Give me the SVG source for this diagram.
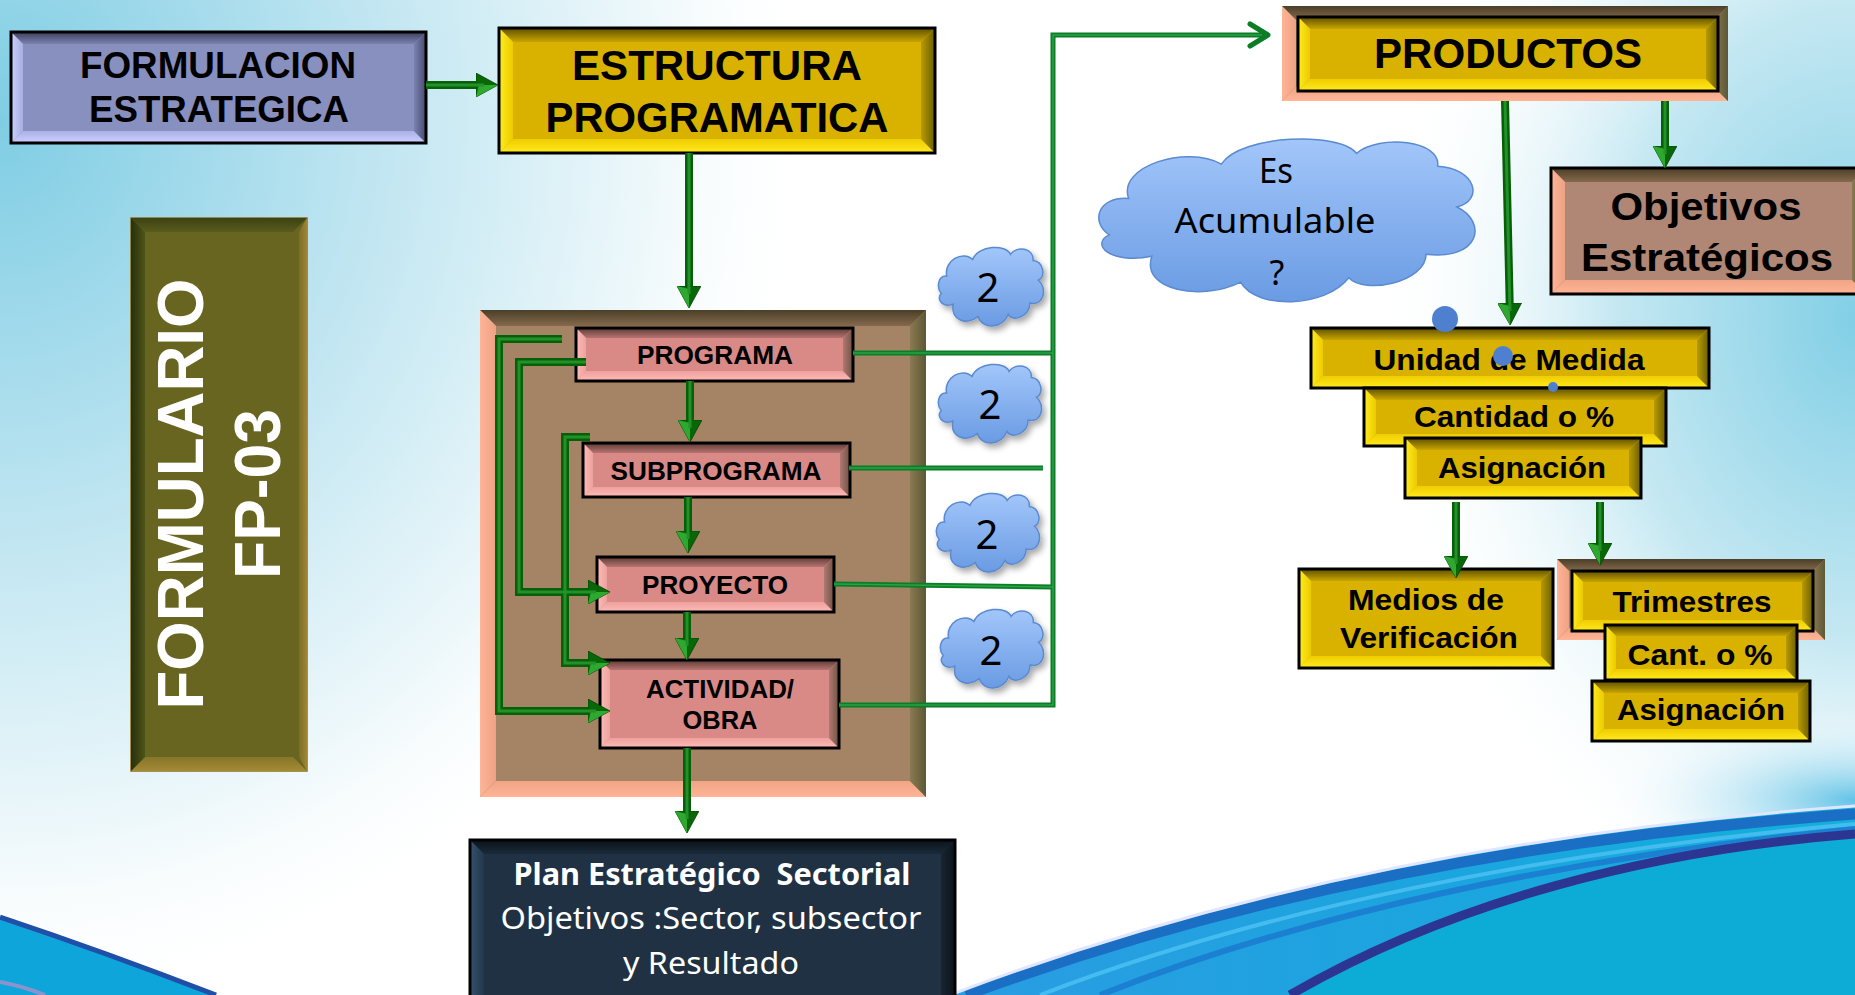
<svg xmlns="http://www.w3.org/2000/svg" xmlns:xlink="http://www.w3.org/1999/xlink" width="1855" height="995" viewBox="0 0 1855 995">
<defs>
<style>
.bx{font-family:"Liberation Sans",Arial,sans-serif;font-weight:bold;text-anchor:middle;fill:#000}
.cal{font-family:"Noto Sans","Open Sans",sans-serif;text-anchor:middle;fill:#000}
.wt{fill:#fff}
.edge{fill:none;stroke:#000;stroke-width:3}
.Y .base{fill:#d9b200}.Y .t{fill:url(#Yt)}.Y .b{fill:url(#Yb)}.Y .l{fill:url(#Yl)}.Y .r{fill:url(#Yr)}
.P .base{fill:#d98a87}.P .t{fill:url(#Pt)}.P .b{fill:url(#Pb)}.P .l{fill:url(#Pl)}.P .r{fill:url(#Pr)}
.L .base{fill:#8890c0}.L .t{fill:url(#Lt)}.L .b{fill:url(#Lb)}.L .l{fill:url(#Ll)}.L .r{fill:url(#Lr)}
.B .base{fill:#a58466}.R .base{fill:#b08675}
.B .t,.R .t{fill:url(#Bt)}.B .b,.R .b{fill:url(#Bb)}.B .l,.R .l{fill:url(#Bl)}.B .r,.R .r{fill:url(#Br)}
.O .base{fill:#67651f;stroke:#8a7020;stroke-width:1.5}.O .t{fill:url(#Ot)}.O .b{fill:url(#Ob)}.O .l{fill:url(#Ol)}.O .r{fill:url(#Or)}
.N .base{fill:#1f3142}.N .t{fill:url(#Nt)}.N .l{fill:url(#Nl)}.N .r{fill:url(#Nr)}
.th{fill:none;stroke:#075f07;stroke-width:8;stroke-linejoin:miter;marker-end:url(#ah)}
.hl{fill:none;stroke:#23912a;stroke-width:3}
.tn{fill:none;stroke:#0b7d25;stroke-width:5}
.tnh{fill:none;stroke:#2aa048;stroke-width:1.5}
.dot{fill:#4f80cf}
</style>
<linearGradient id="Yt" x1="0" y1="0" x2="0" y2="1"><stop offset="0" stop-color="#5e5000"/><stop offset="1" stop-color="#c9a500"/></linearGradient>
<linearGradient id="Yb" x1="0" y1="0" x2="0" y2="1"><stop offset="0" stop-color="#f0cd00"/><stop offset="1" stop-color="#ffea1e"/></linearGradient>
<linearGradient id="Yl" x1="0" y1="0" x2="1" y2="0"><stop offset="0" stop-color="#ffec1e"/><stop offset="1" stop-color="#eccb00"/></linearGradient>
<linearGradient id="Yr" x1="0" y1="0" x2="1" y2="0"><stop offset="0" stop-color="#b89a00"/><stop offset="1" stop-color="#6a5e00"/></linearGradient>
<linearGradient id="Pt" x1="0" y1="0" x2="0" y2="1"><stop offset="0" stop-color="#5a3a36"/><stop offset="1" stop-color="#b87470"/></linearGradient>
<linearGradient id="Pb" x1="0" y1="0" x2="0" y2="1"><stop offset="0" stop-color="#eea09c"/><stop offset="1" stop-color="#ffbcb8"/></linearGradient>
<linearGradient id="Pl" x1="0" y1="0" x2="1" y2="0"><stop offset="0" stop-color="#ffbcb8"/><stop offset="1" stop-color="#eba29e"/></linearGradient>
<linearGradient id="Pr" x1="0" y1="0" x2="1" y2="0"><stop offset="0" stop-color="#b07872"/><stop offset="1" stop-color="#6e5242"/></linearGradient>
<linearGradient id="Lt" x1="0" y1="0" x2="0" y2="1"><stop offset="0" stop-color="#3c405c"/><stop offset="1" stop-color="#7a82b0"/></linearGradient>
<linearGradient id="Lb" x1="0" y1="0" x2="0" y2="1"><stop offset="0" stop-color="#aab2e6"/><stop offset="1" stop-color="#ccd0ff"/></linearGradient>
<linearGradient id="Ll" x1="0" y1="0" x2="1" y2="0"><stop offset="0" stop-color="#ccd0ff"/><stop offset="1" stop-color="#a6aee0"/></linearGradient>
<linearGradient id="Lr" x1="0" y1="0" x2="1" y2="0"><stop offset="0" stop-color="#7a82b0"/><stop offset="1" stop-color="#474c6c"/></linearGradient>
<linearGradient id="Bt" x1="0" y1="0" x2="0" y2="1"><stop offset="0" stop-color="#4a3f28"/><stop offset="1" stop-color="#85694c"/></linearGradient>
<linearGradient id="Bb" x1="0" y1="0" x2="0" y2="1"><stop offset="0" stop-color="#f0a585"/><stop offset="1" stop-color="#ffb497"/></linearGradient>
<linearGradient id="Bl" x1="0" y1="0" x2="1" y2="0"><stop offset="0" stop-color="#ffb497"/><stop offset="1" stop-color="#eda283"/></linearGradient>
<linearGradient id="Br" x1="0" y1="0" x2="1" y2="0"><stop offset="0" stop-color="#8a7a50"/><stop offset="1" stop-color="#5c5836"/></linearGradient>
<linearGradient id="Ot" x1="0" y1="0" x2="0" y2="1"><stop offset="0" stop-color="#3c4212"/><stop offset="1" stop-color="#5a5c1c"/></linearGradient>
<linearGradient id="Ob" x1="0" y1="0" x2="0" y2="1"><stop offset="0" stop-color="#867628"/><stop offset="1" stop-color="#a48a36"/></linearGradient>
<linearGradient id="Ol" x1="0" y1="0" x2="1" y2="0"><stop offset="0" stop-color="#27300c"/><stop offset="1" stop-color="#4e5418"/></linearGradient>
<linearGradient id="Or" x1="0" y1="0" x2="1" y2="0"><stop offset="0" stop-color="#7e6c26"/><stop offset="1" stop-color="#a08634"/></linearGradient>
<linearGradient id="Nt" x1="0" y1="0" x2="0" y2="1"><stop offset="0" stop-color="#0b131a"/><stop offset="1" stop-color="#1a2a3a"/></linearGradient>
<linearGradient id="Nl" x1="0" y1="0" x2="1" y2="0"><stop offset="0" stop-color="#36526e"/><stop offset="1" stop-color="#22374a"/></linearGradient>
<linearGradient id="Nr" x1="0" y1="0" x2="1" y2="0"><stop offset="0" stop-color="#182430"/><stop offset="1" stop-color="#0c141a"/></linearGradient>
<linearGradient id="cg" x1="0" y1="0" x2="0" y2="1"><stop offset="0" stop-color="#a2c6fa"/><stop offset="1" stop-color="#6a9be3"/></linearGradient>
<radialGradient id="gTL" gradientUnits="userSpaceOnUse" cx="0" cy="0" r="1" gradientTransform="translate(0,120) scale(820,900)">
<stop offset="0" stop-color="#7fcde4"/><stop offset="0.45" stop-color="#bfe5f1"/><stop offset="0.8" stop-color="#eef8fb"/><stop offset="1" stop-color="#ffffff" stop-opacity="0"/></radialGradient>
<radialGradient id="gTR" gradientUnits="userSpaceOnUse" cx="0" cy="0" r="1" gradientTransform="translate(1855,320) scale(480,640)">
<stop offset="0" stop-color="#82cfe6"/><stop offset="0.5" stop-color="#c5e8f2"/><stop offset="1" stop-color="#ffffff" stop-opacity="0"/></radialGradient>
<radialGradient id="gBR" gradientUnits="userSpaceOnUse" cx="0" cy="0" r="1" gradientTransform="translate(1855,800) scale(260,90)">
<stop offset="0" stop-color="#62c3e6"/><stop offset="1" stop-color="#ffffff" stop-opacity="0"/></radialGradient>
<linearGradient id="wave" x1="0" y1="0" x2="1" y2="0"><stop offset="0" stop-color="#2a9ce2"/><stop offset="0.6" stop-color="#1aa6de"/><stop offset="1" stop-color="#12b0da"/></linearGradient>
<filter id="sh" x="-20%" y="-20%" width="150%" height="160%"><feDropShadow dx="3" dy="4" stdDeviation="3" flood-color="#000" flood-opacity="0.35"/></filter>
<symbol id="cloud" viewBox="-1 -1 102 82" preserveAspectRatio="none">
<path d="M9,29 C6,14 24,4 33,13 C38,-1 64,-2 68,8 C74,-1 90,2 89,14 C99,15 101,30 94,33 C102,40 100,58 86,55 C86,68 70,74 66,66 C60,80 42,81 38,68 C28,77 12,72 15,56 C4,60 -1,50 4,46 C-1,40 1,28 9,29 Z" fill="url(#cg)" stroke="#5a8ad0" stroke-width="1.5" vector-effect="non-scaling-stroke"/>
</symbol>
<marker id="ah" markerUnits="userSpaceOnUse" markerWidth="22" markerHeight="24" viewBox="0 0 22 24" refX="14" refY="12" orient="auto">
<path d="M0,0 L22,12 L0,24 Z" fill="#086808" stroke="#004400" stroke-width="0.8"/>
<path d="M0,24 L22,12 L3,12 Z" fill="#2ea82e"/>
</marker>
<marker id="ch" markerUnits="userSpaceOnUse" markerWidth="24" markerHeight="28" viewBox="0 0 24 28" refX="21" refY="14" orient="auto">
<path d="M3,3 L21,14 L3,25" fill="none" stroke="#0b7d25" stroke-width="5" stroke-linecap="round" stroke-linejoin="round"/>
</marker>
</defs>

<g id="background">
<rect width="1855" height="995" fill="#ffffff"/>
<rect width="1855" height="995" fill="url(#gTL)"/>
<rect width="1855" height="995" fill="url(#gTR)"/>
<rect width="1855" height="995" fill="url(#gBR)"/>
<path d="M0,917 Q105,952 216,995 L0,995 Z" fill="#0ea5da"/>
<path d="M0,917 Q105,952 216,995" fill="none" stroke="#1f4fa8" stroke-width="5"/>
<path d="M0,982 Q22,986 45,995" fill="none" stroke="#8a94cc" stroke-width="4"/>
<path d="M950,995 C1200,900 1500,832 1855,806 L1855,995 Z" fill="url(#wave)"/>
<path d="M966,995 C1212,904 1506,839 1855,814" fill="none" stroke="#1a6ec4" stroke-width="11"/>
<path d="M1040,995 C1262,910 1540,852 1855,824" fill="none" stroke="#45bcef" stroke-width="4"/>
<path d="M1100,995 C1300,916 1560,858 1855,829" fill="none" stroke="#1b80d2" stroke-width="6"/>
<path d="M1290,995 C1450,902 1650,850 1855,834 L1855,995 Z" fill="#0cacd6"/>
<path d="M1290,995 C1450,902 1650,850 1855,834" fill="none" stroke="#2d3592" stroke-width="9"/>
<path d="M950,995 C1200,900 1500,832 1855,806" fill="none" stroke="#dfe6ff" stroke-width="3"/>
</g>

<g id="n-formulacion" class="L">
<rect class="base" x="11" y="32" width="415" height="111"/>
<polygon class="t" points="11,32 426,32 414,44 23,44"/>
<polygon class="b" points="11,143 426,143 414,131 23,131"/>
<polygon class="l" points="11,32 23,44 23,131 11,143"/>
<polygon class="r" points="426,32 414,44 414,131 426,143"/>
<rect class="edge" x="11" y="32" width="415" height="111"/>
<text class="bx" x="218" y="78" font-size="36" textLength="276" lengthAdjust="spacingAndGlyphs">FORMULACION</text>
<text class="bx" x="219" y="122" font-size="36" textLength="260" lengthAdjust="spacingAndGlyphs">ESTRATEGICA</text>
</g>

<g id="n-estructura" class="Y">
<rect class="base" x="499" y="28" width="436" height="125"/>
<polygon class="t" points="499,28 935,28 921,42 513,42"/>
<polygon class="b" points="499,153 935,153 921,139 513,139"/>
<polygon class="l" points="499,28 513,42 513,139 499,153"/>
<polygon class="r" points="935,28 921,42 921,139 935,153"/>
<rect class="edge" x="499" y="28" width="436" height="125"/>
<text class="bx" x="717" y="80" font-size="43" textLength="290" lengthAdjust="spacingAndGlyphs">ESTRUCTURA</text>
<text class="bx" x="717" y="132" font-size="43" textLength="343" lengthAdjust="spacingAndGlyphs">PROGRAMATICA</text>
</g>

<g id="n-formulario" class="O">
<rect class="base" x="131" y="218" width="176" height="553"/>
<polygon class="t" points="131,218 307,218 293,232 145,232"/>
<polygon class="b" points="131,771 307,771 293,757 145,757"/>
<polygon class="l" points="131,218 145,232 145,757 131,771"/>
<polygon class="r" points="307,218 299,232 299,757 307,771"/>
<text class="bx wt" x="203" y="494" font-size="64" textLength="431" lengthAdjust="spacingAndGlyphs" transform="rotate(-90 203 494)">FORMULARIO</text>
<text class="bx wt" x="280" y="494" font-size="64" textLength="170" lengthAdjust="spacingAndGlyphs" transform="rotate(-90 280 494)">FP-03</text>
</g>

<g id="n-contenedor" class="B">
<rect class="base" x="480" y="310" width="446" height="487"/>
<polygon class="t" points="480,310 926,310 910,326 496,326"/>
<polygon class="b" points="480,797 926,797 910,781 496,781"/>
<polygon class="l" points="480,310 496,326 496,781 480,797"/>
<polygon class="r" points="926,310 910,326 910,781 926,797"/>
</g>

<g id="n-programa" class="P">
<rect class="base" x="576" y="328" width="277" height="53"/>
<polygon class="t" points="576,328 853,328 843,338 586,338"/>
<polygon class="b" points="576,381 853,381 843,371 586,371"/>
<polygon class="l" points="576,328 586,338 586,371 576,381"/>
<polygon class="r" points="853,328 843,338 843,371 853,381"/>
<rect class="edge" x="576" y="328" width="277" height="53" stroke-width="2.5"/>
<text class="bx" x="715" y="364" font-size="26" textLength="156" lengthAdjust="spacingAndGlyphs">PROGRAMA</text>
</g>

<g id="n-subprograma" class="P">
<rect class="base" x="583" y="443" width="267" height="54"/>
<polygon class="t" points="583,443 850,443 840,453 593,453"/>
<polygon class="b" points="583,497 850,497 840,487 593,487"/>
<polygon class="l" points="583,443 593,453 593,487 583,497"/>
<polygon class="r" points="850,443 840,453 840,487 850,497"/>
<rect class="edge" x="583" y="443" width="267" height="54" stroke-width="2.5"/>
<text class="bx" x="716" y="480" font-size="26" textLength="211" lengthAdjust="spacingAndGlyphs">SUBPROGRAMA</text>
</g>

<g id="n-proyecto" class="P">
<rect class="base" x="597" y="557" width="237" height="55"/>
<polygon class="t" points="597,557 834,557 824,567 607,567"/>
<polygon class="b" points="597,612 834,612 824,602 607,602"/>
<polygon class="l" points="597,557 607,567 607,602 597,612"/>
<polygon class="r" points="834,557 824,567 824,602 834,612"/>
<rect class="edge" x="597" y="557" width="237" height="55" stroke-width="2.5"/>
<text class="bx" x="715" y="594" font-size="26" textLength="146" lengthAdjust="spacingAndGlyphs">PROYECTO</text>
</g>

<g id="n-actividad" class="P">
<rect class="base" x="600" y="660" width="239" height="88"/>
<polygon class="t" points="600,660 839,660 829,670 610,670"/>
<polygon class="b" points="600,748 839,748 829,738 610,738"/>
<polygon class="l" points="600,660 610,670 610,738 600,748"/>
<polygon class="r" points="839,660 829,670 829,738 839,748"/>
<rect class="edge" x="600" y="660" width="239" height="88" stroke-width="2.5"/>
<text class="bx" x="720" y="698" font-size="26" textLength="148" lengthAdjust="spacingAndGlyphs">ACTIVIDAD/</text>
<text class="bx" x="720" y="729" font-size="26" textLength="75" lengthAdjust="spacingAndGlyphs">OBRA</text>
</g>

<g id="n-plan" class="N">
<rect class="base" x="470" y="840" width="485" height="170"/>
<polygon class="t" points="470,840 955,840 941,854 484,854"/>
<polygon class="l" points="470,840 484,854 484,1010 470,1010"/>
<polygon class="r" points="955,840 941,854 941,1010 955,1010"/>
<rect class="edge" x="470" y="840" width="485" height="170"/>
<text class="cal wt" x="712" y="885" font-size="31" font-weight="bold" style="white-space:pre" textLength="397" lengthAdjust="spacingAndGlyphs">Plan Estratégico  Sectorial</text>
<text class="cal wt" x="711" y="929" font-size="31" textLength="421" lengthAdjust="spacingAndGlyphs">Objetivos :Sector, subsector</text>
<text class="cal wt" x="711" y="974" font-size="31" textLength="176" lengthAdjust="spacingAndGlyphs">y Resultado</text>
</g>

<g id="n-productos">
<g class="B">
<rect class="base" x="1282" y="6" width="446" height="95"/>
<polygon class="t" points="1282,6 1728,6 1714,20 1296,20"/>
<polygon class="b" points="1282,101 1728,101 1714,87 1296,87"/>
<polygon class="l" points="1282,6 1296,20 1296,87 1282,101"/>
<polygon class="r" points="1728,6 1714,20 1714,87 1728,101"/>
</g>
<g class="Y">
<rect class="base" x="1298" y="17" width="420" height="74"/>
<polygon class="t" points="1298,17 1718,17 1706,29 1310,29"/>
<polygon class="b" points="1298,91 1718,91 1706,79 1310,79"/>
<polygon class="l" points="1298,17 1310,29 1310,79 1298,91"/>
<polygon class="r" points="1718,17 1706,29 1706,79 1718,91"/>
<rect class="edge" x="1298" y="17" width="420" height="74" stroke-width="4"/>
<text class="bx" x="1508" y="68" font-size="42" textLength="268" lengthAdjust="spacingAndGlyphs">PRODUCTOS</text>
</g>
</g>

<g id="n-objetivos" class="R">
<rect class="base" x="1551" y="168" width="315" height="126"/>
<polygon class="t" points="1551,168 1866,168 1852,182 1565,182"/>
<polygon class="b" points="1551,294 1866,294 1852,280 1565,280"/>
<polygon class="l" points="1551,168 1565,182 1565,280 1551,294"/>
<polygon class="r" points="1866,168 1852,182 1852,280 1866,294"/>
<rect class="edge" x="1551" y="168" width="315" height="126"/>
<text class="bx" x="1706" y="220" font-size="38" textLength="191" lengthAdjust="spacingAndGlyphs">Objetivos</text>
<text class="bx" x="1707" y="271" font-size="38" textLength="252" lengthAdjust="spacingAndGlyphs">Estratégicos</text>
</g>

<g id="n-unidad" class="Y">
<rect class="base" x="1311" y="328" width="398" height="60"/>
<polygon class="t" points="1311,328 1709,328 1697,340 1323,340"/>
<polygon class="b" points="1311,388 1709,388 1697,376 1323,376"/>
<polygon class="l" points="1311,328 1323,340 1323,376 1311,388"/>
<polygon class="r" points="1709,328 1697,340 1697,376 1709,388"/>
<rect class="edge" x="1311" y="328" width="398" height="60"/>
<text class="bx" x="1509" y="370" font-size="30" textLength="271" lengthAdjust="spacingAndGlyphs">Unidad de Medida</text>
</g>

<g id="n-cantidad" class="Y">
<rect class="base" x="1364" y="388" width="302" height="58"/>
<polygon class="t" points="1364,388 1666,388 1654,400 1376,400"/>
<polygon class="b" points="1364,446 1666,446 1654,434 1376,434"/>
<polygon class="l" points="1364,388 1376,400 1376,434 1364,446"/>
<polygon class="r" points="1666,388 1654,400 1654,434 1666,446"/>
<rect class="edge" x="1364" y="388" width="302" height="58"/>
<text class="bx" x="1514" y="427" font-size="30" textLength="200" lengthAdjust="spacingAndGlyphs">Cantidad o %</text>
</g>

<g id="n-asignacion" class="Y">
<rect class="base" x="1405" y="438" width="236" height="60"/>
<polygon class="t" points="1405,438 1641,438 1629,450 1417,450"/>
<polygon class="b" points="1405,498 1641,498 1629,486 1417,486"/>
<polygon class="l" points="1405,438 1417,450 1417,486 1405,498"/>
<polygon class="r" points="1641,438 1629,450 1629,486 1641,498"/>
<rect class="edge" x="1405" y="438" width="236" height="60"/>
<text class="bx" x="1522" y="478" font-size="30" textLength="168" lengthAdjust="spacingAndGlyphs">Asignación</text>
</g>

<g id="n-medios" class="Y">
<rect class="base" x="1299" y="569" width="254" height="99"/>
<polygon class="t" points="1299,569 1553,569 1541,581 1311,581"/>
<polygon class="b" points="1299,668 1553,668 1541,656 1311,656"/>
<polygon class="l" points="1299,569 1311,581 1311,656 1299,668"/>
<polygon class="r" points="1553,569 1541,581 1541,656 1553,668"/>
<rect class="edge" x="1299" y="569" width="254" height="99"/>
<text class="bx" x="1426" y="610" font-size="30" textLength="156" lengthAdjust="spacingAndGlyphs">Medios de</text>
<text class="bx" x="1429" y="648" font-size="30" textLength="178" lengthAdjust="spacingAndGlyphs">Verificación</text>
</g>

<g id="n-trimestres">
<g class="B">
<rect class="base" x="1557" y="559" width="268" height="81"/>
<polygon class="t" points="1557,559 1825,559 1813,571 1569,571"/>
<polygon class="b" points="1557,640 1825,640 1813,628 1569,628"/>
<polygon class="l" points="1557,559 1569,571 1569,628 1557,640"/>
<polygon class="r" points="1825,559 1813,571 1813,628 1825,640"/>
</g>
<g class="Y">
<rect class="base" x="1572" y="571" width="241" height="60"/>
<polygon class="t" points="1572,571 1813,571 1802,582 1583,582"/>
<polygon class="b" points="1572,631 1813,631 1802,620 1583,620"/>
<polygon class="l" points="1572,571 1583,582 1583,620 1572,631"/>
<polygon class="r" points="1813,571 1802,582 1802,620 1813,631"/>
<rect class="edge" x="1572" y="571" width="241" height="60"/>
<text class="bx" x="1692" y="612" font-size="30" textLength="159" lengthAdjust="spacingAndGlyphs">Trimestres</text>
</g>
</g>

<g id="n-cant" class="Y">
<rect class="base" x="1605" y="625" width="192" height="55"/>
<polygon class="t" points="1605,625 1797,625 1786,636 1616,636"/>
<polygon class="b" points="1605,680 1797,680 1786,669 1616,669"/>
<polygon class="l" points="1605,625 1616,636 1616,669 1605,680"/>
<polygon class="r" points="1797,625 1786,636 1786,669 1797,680"/>
<rect class="edge" x="1605" y="625" width="192" height="55"/>
<text class="bx" x="1700" y="665" font-size="30" textLength="145" lengthAdjust="spacingAndGlyphs">Cant. o %</text>
</g>

<g id="n-asignacion2" class="Y">
<rect class="base" x="1592" y="681" width="218" height="60"/>
<polygon class="t" points="1592,681 1810,681 1798,693 1604,693"/>
<polygon class="b" points="1592,741 1810,741 1798,729 1604,729"/>
<polygon class="l" points="1592,681 1604,693 1604,729 1592,741"/>
<polygon class="r" points="1810,681 1798,693 1798,729 1810,741"/>
<rect class="edge" x="1592" y="681" width="218" height="60"/>
<text class="bx" x="1701" y="720" font-size="30" textLength="168" lengthAdjust="spacingAndGlyphs">Asignación</text>
</g>

<g id="n-acumulable">
<use xlink:href="#cloud" href="#cloud" x="1090" y="134" width="394" height="176"/>
<text class="cal" x="1276" y="183" font-size="34" textLength="34" lengthAdjust="spacingAndGlyphs">Es</text>
<text class="cal" x="1275" y="233" font-size="34" textLength="201" lengthAdjust="spacingAndGlyphs">Acumulable</text>
<text class="cal" x="1277" y="285" font-size="34">?</text>
</g>

<g id="n-nube1">
<use xlink:href="#cloud" href="#cloud" x="936" y="245" width="110" height="85" filter="url(#sh)"/>
<text class="cal" x="988" y="302" font-size="40">2</text>
</g>
<g id="n-nube2">
<use xlink:href="#cloud" href="#cloud" x="936" y="362" width="108" height="85" filter="url(#sh)"/>
<text class="cal" x="990" y="419" font-size="40">2</text>
</g>
<g id="n-nube3">
<use xlink:href="#cloud" href="#cloud" x="934" y="491" width="108" height="85" filter="url(#sh)"/>
<text class="cal" x="987" y="549" font-size="40">2</text>
</g>
<g id="n-nube4">
<use xlink:href="#cloud" href="#cloud" x="938" y="607" width="108" height="85" filter="url(#sh)"/>
<text class="cal" x="991" y="665" font-size="40">2</text>
</g>

<g id="connectors">
<path class="th" d="M426,85 H490"/>
<path class="th" d="M689,153 V300"/>
<path class="th" d="M690,381 V434"/>
<path class="th" d="M688,497 V545"/>
<path class="th" d="M687,612 V652"/>
<path class="th" d="M687,748 V825"/>
<path class="th" d="M562,339 H499 V711 H602"/>
<path class="th" d="M586,362 H519 V592 H602"/>
<path class="th" d="M590,437 H565 V663 H602"/>
<path class="th" d="M1665,101 V160"/>
<path class="th" d="M1505,101 L1510,317"/>
<path class="th" d="M1456,502 V570"/>
<path class="th" d="M1600,502 V557"/>
<path class="hl" d="M426,85 H484"/>
<path class="hl" d="M689,153 V294"/>
<path class="hl" d="M690,381 V428"/>
<path class="hl" d="M688,497 V539"/>
<path class="hl" d="M687,612 V646"/>
<path class="hl" d="M687,748 V819"/>
<path class="hl" d="M562,339 H499 V711 H596"/>
<path class="hl" d="M586,362 H519 V592 H596"/>
<path class="hl" d="M590,437 H565 V663 H596"/>
<path class="hl" d="M1665,101 V154"/>
<path class="hl" d="M1505,101 L1510,311"/>
<path class="hl" d="M1456,502 V564"/>
<path class="hl" d="M1600,502 V551"/>
<path class="tn" d="M853,353 H1053"/>
<path class="tn" d="M849,468 H1043"/>
<path class="tn" d="M834,584 L1053,587"/>
<path class="tn" d="M839,705 H1053 V35 H1268" marker-end="url(#ch)"/>
<path class="tnh" d="M853,353 H1053"/>
<path class="tnh" d="M849,468 H1043"/>
<path class="tnh" d="M834,584 L1053,587"/>
<path class="tnh" d="M839,705 H1053 V35 H1262"/>
</g>

<g id="puntos">
<circle class="dot" cx="1445" cy="319" r="13"/>
<circle class="dot" cx="1503" cy="356" r="10"/>
<circle class="dot" cx="1553" cy="387" r="5"/>
</g>
</svg>
